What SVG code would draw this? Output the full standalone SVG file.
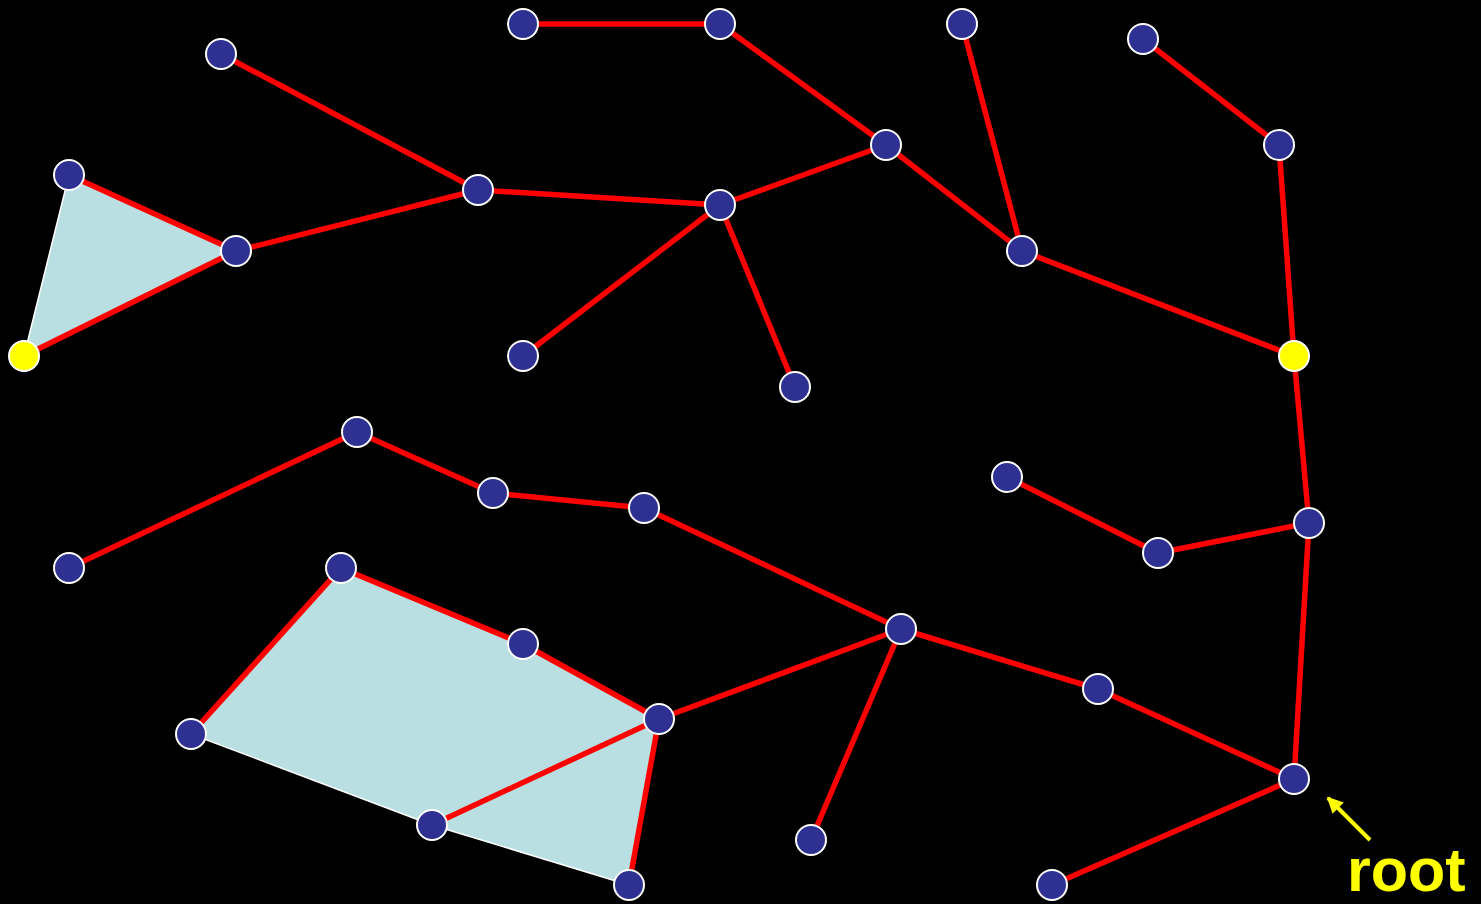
<svg xmlns="http://www.w3.org/2000/svg" width="1481" height="904" viewBox="0 0 1481 904">
  <style>
    .hull { fill: #b9dfe2; stroke: #ffffff; stroke-width: 1.5; stroke-linejoin: round; }
    .edge { stroke: #ff0000; stroke-width: 5.5; stroke-linecap: butt; }
    .node circle { fill: #2e3192; stroke: #ffffff; stroke-width: 2; }
    .node.mark circle { fill: #ffff00; }
    .label { fill: #ffff00; font-family: "Liberation Sans", Arial, sans-serif; font-weight: bold; font-size: 61px; }
  </style>
  <defs>
    <marker id="arrowhead" viewBox="0 0 10 10" refX="9" refY="5" markerWidth="4" markerHeight="4" orient="auto" markerUnits="strokeWidth">
      <path d="M0,0 L10,5 L0,10 z" fill="#ffff00"/>
    </marker>
  </defs>
  <rect width="1481" height="904" fill="#000000"/>

  <!-- shaded regions -->
  <g id="regions">
    <polygon class="hull" points="69,175 236,251 24,356"/>
    <polygon class="hull" points="341,568 523,644 659,719 629,885 432,825 191,734"/>
  </g>

  <!-- connectors -->
  <g id="connectors">
    <line class="edge" x1="523" y1="24" x2="720" y2="24"/>
    <line class="edge" x1="720" y1="24" x2="886" y2="145"/>
    <line class="edge" x1="886" y1="145" x2="720" y2="205"/>
    <line class="edge" x1="886" y1="145" x2="1022" y2="251"/>
    <line class="edge" x1="962" y1="24" x2="1022" y2="251"/>
    <line class="edge" x1="1143" y1="39" x2="1279" y2="145"/>
    <line class="edge" x1="1279" y1="145" x2="1294" y2="356"/>
    <line class="edge" x1="1022" y1="251" x2="1294" y2="356"/>
    <line class="edge" x1="221" y1="54" x2="478" y2="190"/>
    <line class="edge" x1="478" y1="190" x2="720" y2="205"/>
    <line class="edge" x1="478" y1="190" x2="236" y2="251"/>
    <line class="edge" x1="720" y1="205" x2="523" y2="356"/>
    <line class="edge" x1="720" y1="205" x2="795" y2="387"/>
    <line class="edge" x1="69" y1="175" x2="236" y2="251"/>
    <line class="edge" x1="236" y1="251" x2="24" y2="356"/>
    <line class="edge" x1="1294" y1="356" x2="1309" y2="523"/>
    <line class="edge" x1="1309" y1="523" x2="1158" y2="553"/>
    <line class="edge" x1="1158" y1="553" x2="1007" y2="477"/>
    <line class="edge" x1="1309" y1="523" x2="1294" y2="779"/>
    <line class="edge" x1="1294" y1="779" x2="1098" y2="689"/>
    <line class="edge" x1="1098" y1="689" x2="901" y2="629"/>
    <line class="edge" x1="901" y1="629" x2="644" y2="508"/>
    <line class="edge" x1="644" y1="508" x2="493" y2="493"/>
    <line class="edge" x1="493" y1="493" x2="357" y2="432"/>
    <line class="edge" x1="357" y1="432" x2="69" y2="568"/>
    <line class="edge" x1="901" y1="629" x2="659" y2="719"/>
    <line class="edge" x1="901" y1="629" x2="811" y2="840"/>
    <line class="edge" x1="659" y1="719" x2="523" y2="644"/>
    <line class="edge" x1="523" y1="644" x2="341" y2="568"/>
    <line class="edge" x1="341" y1="568" x2="191" y2="734"/>
    <line class="edge" x1="659" y1="719" x2="432" y2="825"/>
    <line class="edge" x1="659" y1="719" x2="629" y2="885"/>
    <line class="edge" x1="1294" y1="779" x2="1052" y2="885"/>
  </g>

  <!-- vertices -->
  <g id="n1" class="node"><circle cx="523" cy="24" r="15"/></g>
  <g id="n2" class="node"><circle cx="720" cy="24" r="15"/></g>
  <g id="n3" class="node"><circle cx="962" cy="24" r="15"/></g>
  <g id="n4" class="node"><circle cx="1143" cy="39" r="15"/></g>
  <g id="n5" class="node"><circle cx="221" cy="54" r="15"/></g>
  <g id="n6" class="node"><circle cx="69" cy="175" r="15"/></g>
  <g id="n7" class="node"><circle cx="886" cy="145" r="15"/></g>
  <g id="n8" class="node"><circle cx="1279" cy="145" r="15"/></g>
  <g id="n9" class="node"><circle cx="478" cy="190" r="15"/></g>
  <g id="n10" class="node"><circle cx="720" cy="205" r="15"/></g>
  <g id="n11" class="node"><circle cx="236" cy="251" r="15"/></g>
  <g id="n12" class="node"><circle cx="1022" cy="251" r="15"/></g>
  <g id="n13" class="node mark"><circle cx="24" cy="356" r="15"/></g>
  <g id="n14" class="node"><circle cx="523" cy="356" r="15"/></g>
  <g id="n15" class="node mark"><circle cx="1294" cy="356" r="15"/></g>
  <g id="n16" class="node"><circle cx="795" cy="387" r="15"/></g>
  <g id="n17" class="node"><circle cx="357" cy="432" r="15"/></g>
  <g id="n18" class="node"><circle cx="1007" cy="477" r="15"/></g>
  <g id="n19" class="node"><circle cx="493" cy="493" r="15"/></g>
  <g id="n20" class="node"><circle cx="644" cy="508" r="15"/></g>
  <g id="n21" class="node"><circle cx="1309" cy="523" r="15"/></g>
  <g id="n22" class="node"><circle cx="1158" cy="553" r="15"/></g>
  <g id="n23" class="node"><circle cx="69" cy="568" r="15"/></g>
  <g id="n24" class="node"><circle cx="341" cy="568" r="15"/></g>
  <g id="n25" class="node"><circle cx="901" cy="629" r="15"/></g>
  <g id="n26" class="node"><circle cx="523" cy="644" r="15"/></g>
  <g id="n27" class="node"><circle cx="1098" cy="689" r="15"/></g>
  <g id="n28" class="node"><circle cx="659" cy="719" r="15"/></g>
  <g id="n29" class="node"><circle cx="191" cy="734" r="15"/></g>
  <g id="n30" class="node"><circle cx="1294" cy="779" r="15"/></g>
  <g id="n31" class="node"><circle cx="432" cy="825" r="15"/></g>
  <g id="n32" class="node"><circle cx="811" cy="840" r="15"/></g>
  <g id="n33" class="node"><circle cx="629" cy="885" r="15"/></g>
  <g id="n34" class="node"><circle cx="1052" cy="885" r="15"/></g>

  <!-- root callout -->
  <g id="root-label">
    <line x1="1370" y1="840" x2="1328" y2="798" stroke="#ffff00" stroke-width="4" marker-end="url(#arrowhead)"/>
    <text class="label" x="1347" y="891">root</text>
  </g>
</svg>
